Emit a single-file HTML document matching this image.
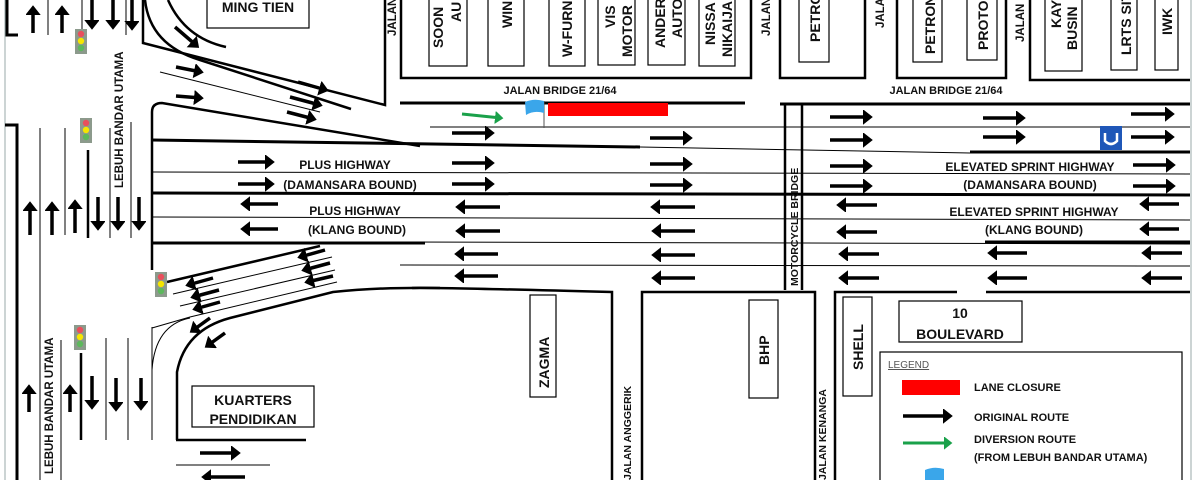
<!DOCTYPE html>
<html><head><meta charset="utf-8"><style>
html,body{margin:0;padding:0;background:#fff;}
svg{display:block;font-family:"Liberation Sans",sans-serif;font-weight:bold;}
</style></head><body>
<svg width="1200" height="480" viewBox="0 0 1200 480" xmlns="http://www.w3.org/2000/svg">
<defs>
<marker id="ah" markerWidth="5" markerHeight="5" refX="2" refY="2" orient="auto" markerUnits="strokeWidth"><path d="M0,-0.2 L2.8,2 L0,4.2 Z" fill="#000"/></marker>
<marker id="ag" markerWidth="5" markerHeight="5" refX="2" refY="2" orient="auto" markerUnits="strokeWidth"><path d="M0,-0.2 L2.8,2 L0,4.2 Z" fill="#1aa14a"/></marker>
</defs>
<rect width="1200" height="480" fill="#fff"/>
<line x1="1191" y1="0" x2="1191" y2="480" stroke="#9aa" stroke-width="1"/>
<line x1="5" y1="0" x2="5" y2="480" stroke="#9aa" stroke-width="1"/>

<g fill="none" stroke="#000">
<path d="M7,0 V35 H18" stroke-width="3"/>
<path d="M5,125 H17 V480" stroke-width="3"/>
<line x1="48" y1="0" x2="48" y2="35" stroke-width="1"/>
<line x1="82" y1="0" x2="82" y2="33" stroke-width="1"/>
<line x1="126" y1="0" x2="126" y2="35" stroke-width="1"/>
<line x1="40" y1="128" x2="40" y2="480" stroke-width="1"/>
<line x1="65" y1="128" x2="65" y2="235" stroke-width="1"/>
<line x1="88" y1="150" x2="88" y2="238" stroke-width="2.5"/>
<line x1="110" y1="128" x2="110" y2="238" stroke-width="1"/>
<line x1="131" y1="122" x2="131" y2="238" stroke-width="1"/>
<line x1="61" y1="340" x2="61" y2="480" stroke-width="1"/>
<line x1="81" y1="353" x2="81" y2="440" stroke-width="2.5"/>
<line x1="106" y1="338" x2="106" y2="440" stroke-width="1"/>
<line x1="128" y1="338" x2="128" y2="440" stroke-width="1"/>
<line x1="152" y1="327" x2="152" y2="440" stroke-width="1"/>

<path d="M143,0 V43 L385,105 V0" stroke-width="2.5"/>
<path d="M145,0 Q150,45 200,60 L351,109" stroke-width="2.5"/>
<path d="M168,0 Q185,38 226,47" stroke-width="2.5"/>
<line x1="160" y1="72" x2="320" y2="112" stroke-width="1"/>
<path d="M152,270 V112 Q152,103 162,103 L420,146" stroke-width="2.5"/>
<path d="M152,140 L640,147" stroke-width="3"/>
<line x1="640" y1="147" x2="970" y2="153" stroke-width="1"/>
<line x1="970" y1="152" x2="1190" y2="152" stroke-width="3"/>
<line x1="400" y1="103" x2="745" y2="103" stroke-width="3"/>
<line x1="780" y1="104" x2="1190" y2="104" stroke-width="3"/>
<line x1="430" y1="127" x2="1190" y2="127" stroke-width="1"/>
<line x1="152" y1="172" x2="1190" y2="174" stroke-width="1"/>
<line x1="152" y1="193" x2="1190" y2="195" stroke-width="3"/>
<line x1="152" y1="217" x2="1190" y2="220" stroke-width="1"/>
<line x1="152" y1="243" x2="425" y2="243" stroke-width="3"/>
<line x1="400" y1="242" x2="1190" y2="244" stroke-width="1"/>
<line x1="985" y1="242" x2="1190" y2="242" stroke-width="3"/>
<line x1="400" y1="265" x2="1190" y2="266" stroke-width="1"/>
<path d="M412,288 Q420,287 612,292 V480" stroke-width="2.5"/>
<path d="M642,480 V292 H815 V480" stroke-width="2.5"/>
<path d="M835,480 V292 H957" stroke-width="2.5"/>
<line x1="986" y1="292" x2="1190" y2="292" stroke-width="2.5"/>
<path d="M785,104 V290 M802,104 V290" stroke-width="2.5"/>

<line x1="167" y1="282" x2="320" y2="246" stroke-width="2.5"/>
<line x1="173" y1="294" x2="332" y2="257" stroke-width="1"/>
<line x1="180" y1="306" x2="335" y2="270" stroke-width="1"/>
<path d="M152,328 L190,317 L337,282" stroke-width="1"/>
<path d="M152,370 Q155,325 190,318" stroke-width="1"/>
<path d="M177,440 V372 Q185,330 230,318 L333,292 Q380,287 440,288" stroke-width="2.5"/>
<line x1="176" y1="440" x2="306" y2="440" stroke-width="2.5"/>
<line x1="176" y1="465" x2="270" y2="465" stroke-width="1"/>

<path d="M401,0 V78 H751 V0" stroke-width="2.5"/>
<path d="M780,0 V78 H865 V0" stroke-width="2.5"/>
<path d="M897,0 V78 H1006 V0" stroke-width="2.5"/>
<path d="M1030,0 V80 H1190" stroke-width="2.5"/>
<g stroke-width="1.2">
<rect x="429" y="-2" width="38" height="68"/>
<rect x="488" y="-2" width="36" height="68"/>
<rect x="549" y="-2" width="36" height="68"/>
<rect x="598" y="-2" width="37" height="67"/>
<rect x="648" y="-2" width="37" height="67"/>
<rect x="699" y="-2" width="36" height="68"/>
<rect x="799" y="-2" width="30" height="64"/>
<rect x="913" y="-2" width="29" height="64"/>
<rect x="967" y="-2" width="30" height="62"/>
<rect x="1045" y="-2" width="37" height="73"/>
<rect x="1111" y="-2" width="26" height="72"/>
<rect x="1155" y="-2" width="23" height="72"/>
<rect x="207" y="-2" width="102" height="30"/>
<rect x="530" y="295" width="26" height="102"/>
<rect x="749" y="300" width="29" height="98"/>
<rect x="843" y="297" width="29" height="99"/>
<rect x="899" y="301" width="123" height="41"/>
<rect x="192" y="386" width="122" height="41"/>
<rect x="880" y="352" width="302" height="130"/>
</g>
</g>

<g>
<rect x="75" y="29" width="12" height="25" fill="#8c9a8c"/><circle cx="81" cy="34" r="3.2" fill="#e94f5c"/><circle cx="81" cy="41" r="3.2" fill="#f5e600"/><circle cx="81" cy="48" r="3.2" fill="#5cb85c"/>
<rect x="80" y="118" width="12" height="25" fill="#8c9a8c"/><circle cx="86" cy="123" r="3.2" fill="#e94f5c"/><circle cx="86" cy="130" r="3.2" fill="#f5e600"/><circle cx="86" cy="137" r="3.2" fill="#5cb85c"/>
<rect x="155" y="272" width="12" height="25" fill="#8c9a8c"/><circle cx="161" cy="277" r="3.2" fill="#e94f5c"/><circle cx="161" cy="284" r="3.2" fill="#f5e600"/><circle cx="161" cy="291" r="3.2" fill="#5cb85c"/>
<rect x="74" y="325" width="12" height="25" fill="#8c9a8c"/><circle cx="80" cy="330" r="3.2" fill="#e94f5c"/><circle cx="80" cy="337" r="3.2" fill="#f5e600"/><circle cx="80" cy="344" r="3.2" fill="#5cb85c"/>
</g>

<g stroke="#000" stroke-width="3.5" marker-end="url(#ah)" fill="none">
<line x1="33" y1="33" x2="33" y2="8"/><line x1="62" y1="33" x2="62" y2="8"/>
<line x1="92" y1="0" x2="92" y2="27"/><line x1="113" y1="0" x2="113" y2="27"/><line x1="132" y1="0" x2="132" y2="28"/>
<line x1="30" y1="235" x2="30" y2="204"/><line x1="52" y1="235" x2="52" y2="204"/><line x1="75" y1="233" x2="75" y2="202"/>
<line x1="98" y1="197" x2="98" y2="228"/><line x1="118" y1="197" x2="118" y2="228"/><line x1="139" y1="197" x2="139" y2="228"/>
<line x1="29" y1="412" x2="29" y2="387"/><line x1="70" y1="412" x2="70" y2="387"/>
<line x1="92" y1="376" x2="92" y2="407"/><line x1="116" y1="378" x2="116" y2="409"/><line x1="141" y1="378" x2="141" y2="408"/>
<line x1="175" y1="27" x2="197" y2="46"/>
<line x1="176" y1="67" x2="201" y2="72"/>
<line x1="176" y1="96" x2="201" y2="98"/>
<line x1="298" y1="82" x2="326" y2="90"/>
<line x1="290" y1="97" x2="320" y2="105"/>
<line x1="287" y1="112" x2="314" y2="119"/>
<line x1="325" y1="250" x2="300" y2="257"/>
<line x1="330" y1="263" x2="304" y2="270"/>
<line x1="333" y1="276" x2="307" y2="282"/>
<line x1="213" y1="278" x2="188" y2="285"/>
<line x1="219" y1="290" x2="193" y2="297"/>
<line x1="220" y1="302" x2="195" y2="309"/>
<line x1="210" y1="318" x2="192" y2="331"/>
<line x1="225" y1="333" x2="207" y2="346"/>
<line x1="238" y1="162" x2="272" y2="162"/><line x1="238" y1="184" x2="272" y2="184"/>
<line x1="452" y1="133" x2="492" y2="133"/><line x1="452" y1="163" x2="492" y2="163"/><line x1="452" y1="184" x2="492" y2="184"/>
<line x1="650" y1="138" x2="690" y2="138"/><line x1="650" y1="164" x2="690" y2="164"/><line x1="650" y1="185" x2="690" y2="185"/>
<line x1="830" y1="117" x2="870" y2="117"/><line x1="830" y1="140" x2="870" y2="140"/><line x1="830" y1="166" x2="870" y2="166"/><line x1="830" y1="186" x2="870" y2="186"/>
<line x1="983" y1="118" x2="1023" y2="118"/><line x1="983" y1="137" x2="1023" y2="137"/>
<line x1="1131" y1="114" x2="1172" y2="114"/><line x1="1131" y1="137" x2="1172" y2="137"/><line x1="1133" y1="165" x2="1173" y2="165"/><line x1="1133" y1="186" x2="1173" y2="186"/>
<line x1="200" y1="453" x2="238" y2="453"/>
<line x1="278" y1="204" x2="243" y2="204"/><line x1="278" y1="229" x2="243" y2="229"/>
<line x1="500" y1="207" x2="458" y2="207"/><line x1="500" y1="231" x2="458" y2="231"/><line x1="498" y1="254" x2="457" y2="254"/><line x1="498" y1="276" x2="457" y2="276"/>
<line x1="695" y1="207" x2="653" y2="207"/><line x1="695" y1="231" x2="654" y2="231"/><line x1="695" y1="255" x2="654" y2="255"/><line x1="695" y1="278" x2="654" y2="278"/>
<line x1="877" y1="205" x2="839" y2="205"/><line x1="877" y1="232" x2="839" y2="232"/><line x1="879" y1="254" x2="841" y2="254"/><line x1="879" y1="278" x2="841" y2="278"/>
<line x1="1027" y1="253" x2="990" y2="253"/><line x1="1027" y1="278" x2="990" y2="278"/>
<line x1="1179" y1="204" x2="1142" y2="204"/><line x1="1179" y1="229" x2="1142" y2="229"/><line x1="1182" y1="253" x2="1144" y2="253"/><line x1="1182" y1="278" x2="1144" y2="278"/>
<line x1="245" y1="477" x2="204" y2="477"/>
<line x1="903" y1="416" x2="950" y2="416"/>
</g>
<g stroke="#1aa14a" stroke-width="3" marker-end="url(#ag)">
<line x1="462" y1="114" x2="501" y2="118"/>
<line x1="903" y1="443" x2="950" y2="443"/>
</g>

<rect x="548" y="103" width="120" height="13" fill="#f00"/>
<line x1="544" y1="101" x2="544" y2="128" stroke="#555" stroke-width="1"/>
<path d="M525,102 Q534,98 544,101 V113 Q534,110 526,115 Z" fill="#3aa6ea"/>
<rect x="902" y="380" width="58" height="15" fill="#f00"/>
<path d="M925,470 Q934,466 944,469 V480 H925 Z" fill="#3aa6ea"/>
<rect x="1100" y="126" width="22" height="24" fill="#1f57b8"/>
<path d="M1105,133 V141 Q1111,147 1117,141 V133" stroke="#fff" stroke-width="2.5" fill="none"/>

<g font-size="12" fill="#111">
<text x="345" y="169" text-anchor="middle">PLUS HIGHWAY</text>
<text x="350" y="189" text-anchor="middle">(DAMANSARA BOUND)</text>
<text x="355" y="215" text-anchor="middle">PLUS HIGHWAY</text>
<text x="357" y="234" text-anchor="middle">(KLANG BOUND)</text>
<text x="1030" y="171" text-anchor="middle">ELEVATED SPRINT HIGHWAY</text>
<text x="1030" y="189" text-anchor="middle">(DAMANSARA BOUND)</text>
<text x="1034" y="216" text-anchor="middle">ELEVATED SPRINT HIGHWAY</text>
<text x="1034" y="234" text-anchor="middle">(KLANG BOUND)</text>
<text x="560" y="94" text-anchor="middle" font-size="11">JALAN BRIDGE 21/64</text>
<text x="946" y="94" text-anchor="middle" font-size="11">JALAN BRIDGE 21/64</text>
<text x="258" y="12" text-anchor="middle" font-size="14">MING TIEN</text>
<text x="253" y="405" text-anchor="middle" font-size="14">KUARTERS</text>
<text x="253" y="424" text-anchor="middle" font-size="14">PENDIDIKAN</text>
<text x="960" y="318" text-anchor="middle" font-size="14">10</text>
<text x="960" y="339" text-anchor="middle" font-size="14">BOULEVARD</text>
<text x="888" y="368" font-size="10" font-weight="normal" fill="#555" text-decoration="underline">LEGEND</text>
<text x="974" y="391" font-size="11">LANE CLOSURE</text>
<text x="974" y="421" font-size="11">ORIGINAL ROUTE</text>
<text x="974" y="443" font-size="11">DIVERSION ROUTE</text>
<text x="974" y="461" font-size="11">(FROM LEBUH BANDAR UTAMA)</text>
<g font-size="11.5">
<text transform="translate(123,188) rotate(-90)">LEBUH BANDAR UTAMA</text>
<text transform="translate(53,474) rotate(-90)">LEBUH BANDAR UTAMA</text>
<text transform="translate(798,286) rotate(-90)" font-size="10.5">MOTORCYCLE BRIDGE</text>
<text transform="translate(631,480) rotate(-90)" font-size="10.5">JALAN ANGGERIK</text>
<text transform="translate(826,480) rotate(-90)" font-size="10.5">JALAN KENANGA</text>
<text transform="translate(396,36) rotate(-90)">JALAN</text>
<text transform="translate(770,36) rotate(-90)">JALAN</text>
<text transform="translate(884,28) rotate(-90)">JALAN</text>
<text transform="translate(1024,42) rotate(-90)">JALAN</text>
</g>
<g font-size="14">
<text transform="translate(549,388) rotate(-90)">ZAGMA</text>
<text transform="translate(769,365) rotate(-90)">BHP</text>
<text transform="translate(863,370) rotate(-90)">SHELL</text>
<text transform="translate(443,48) rotate(-90)">SOON</text>
<text transform="translate(461,22) rotate(-90)">AU</text>
<text transform="translate(512,28) rotate(-90)">WIN</text>
<text transform="translate(572,57) rotate(-90)">W-FURN</text>
<text transform="translate(615,28) rotate(-90)">VIS</text>
<text transform="translate(632,57) rotate(-90)">MOTOR</text>
<text transform="translate(665,48) rotate(-90)">ANDER</text>
<text transform="translate(682,38) rotate(-90)">AUTO</text>
<text transform="translate(715,45) rotate(-90)">NISSA</text>
<text transform="translate(732,57) rotate(-90)">NIKAIJA</text>
<text transform="translate(820,42) rotate(-90)">PETRO</text>
<text transform="translate(935,54) rotate(-90)">PETRON</text>
<text transform="translate(988,50) rotate(-90)">PROTO</text>
<text transform="translate(1061,28) rotate(-90)">KAY</text>
<text transform="translate(1077,50) rotate(-90)">BUSIN</text>
<text transform="translate(1131,55) rotate(-90)">LRTS SIT</text>
<text transform="translate(1172,35) rotate(-90)">IWK</text>
</g>
</g>
</svg>
</body></html>
